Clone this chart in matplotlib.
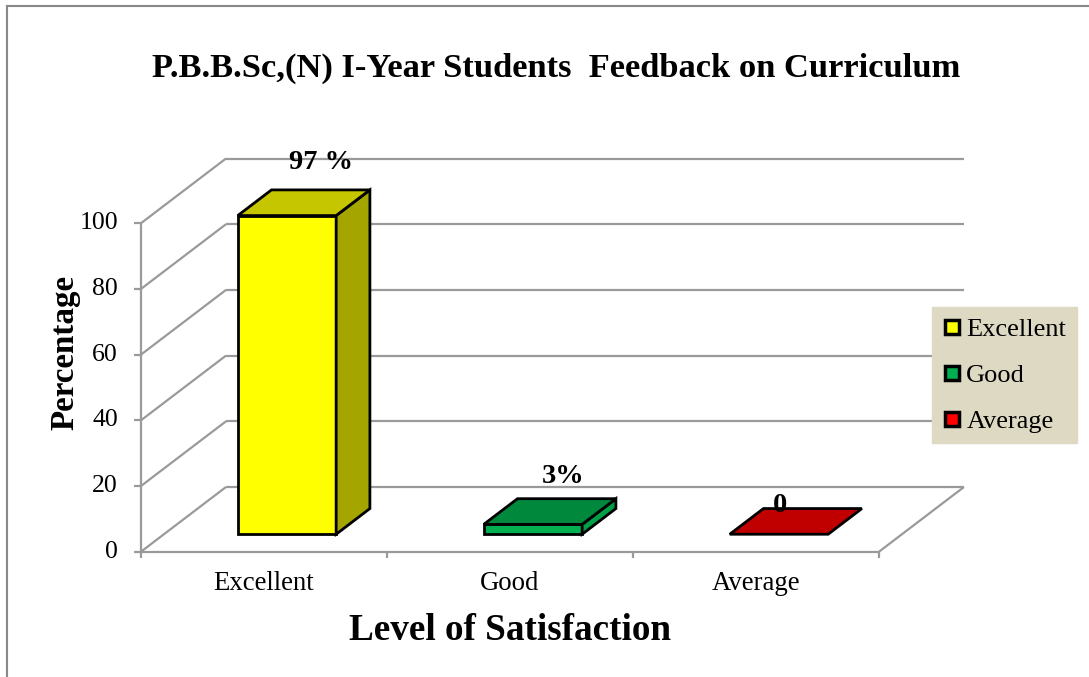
import matplotlib
matplotlib.use("Agg")
import matplotlib.pyplot as plt
from matplotlib.patches import Polygon
from matplotlib.lines import Line2D

# ---------------- data ----------------
categories = ["Excellent", "Good", "Average"]
values = [97, 3, 0]
value_labels = ["97 %", "3%", "0"]
y_ticks = [0, 20, 40, 60, 80, 100]

title = "P.B.B.Sc,(N) I-Year Students  Feedback on Curriculum"
x_title = "Level of Satisfaction"
y_title = "Percentage"

# ---------------- style ----------------
front_colors = ["#FFFF00", "#00B050", "#C00000"]
top_colors = ["#C6C600", "#00883C", "#C00000"]
side_colors = ["#A5A500", "#009E46", "#A00000"]
legend_colors = ["#FFFF00", "#00B050", "#FF0000"]
label_offsets_px = [(0, 27), (-4, 22), (-33, 3.5)]

plt.rcParams['font.family'] = ['Liberation Serif', 'DejaVu Serif']

W, H = 1089, 677
PX_U = 246.0      # pixels per category unit
PX_V = 3.285      # pixels per percentage unit
X0_PX, Y0_PX = 141.0, 551.7

fig = plt.figure(figsize=(W / 100, H / 100), dpi=100)
ax = fig.add_axes([0, 0, 1, 1])
ax.set_xlim(-X0_PX / PX_U, (W - X0_PX) / PX_U)
ax.set_ylim((Y0_PX - H) / PX_V, Y0_PX / PX_V)
ax.axis('off')

DX = 85 / PX_U
DY = 64.7 / PX_V
F0, F1 = 0.27, 0.667
BW = 0.4
n = len(categories)
ymax = y_ticks[-1]
grid = dict(color="#9A9A9A", lw=1.6, solid_capstyle='butt', zorder=1)

# walls / gridlines
for t in y_ticks:
    ax.plot([DX, n + DX], [t + DY, t + DY], **grid)
    ax.plot([0, DX], [t, t + DY], **grid)
    ax.plot([-7 / PX_U, 0], [t, t], **grid)
    ax.text(-23 / PX_U, t, str(t), ha='right', va='center', fontsize=18.5)
ax.plot([0, 0], [0, ymax], **grid)
ax.plot([0, n], [0, 0], **grid)
ax.plot([n, n + DX], [0, DY], **grid)
for i in range(n + 1):
    ax.plot([i, i], [0, -6 / PX_V], **grid)

# bars
for i, v in enumerate(values):
    x0 = i + 0.5 - BW / 2
    x1 = i + 0.5 + BW / 2
    ox0, oy0 = F0 * DX, F0 * DY
    ox1, oy1 = F1 * DX, F1 * DY
    front = [(x0 + ox0, oy0), (x1 + ox0, oy0), (x1 + ox0, v + oy0), (x0 + ox0, v + oy0)]
    side = [(x1 + ox0, oy0), (x1 + ox1, oy1), (x1 + ox1, v + oy1), (x1 + ox0, v + oy0)]
    top = [(x0 + ox0, v + oy0), (x1 + ox0, v + oy0), (x1 + ox1, v + oy1), (x0 + ox1, v + oy1)]
    kw = dict(edgecolor='black', lw=2, joinstyle='miter', zorder=3)
    if v > 0:
        ax.add_patch(Polygon(front, closed=True, facecolor=front_colors[i], **kw))
        ax.add_patch(Polygon(side, closed=True, facecolor=side_colors[i], **kw))
    ax.add_patch(Polygon(top, closed=True, facecolor=top_colors[i], **kw))
    dx, dy = label_offsets_px[i]
    ax.annotate(value_labels[i], xy=(i + 0.5 + F1 * DX, v + F1 * DY),
                xytext=(dx * 0.72, dy * 0.72), textcoords='offset points',
                ha='center', va='center', fontsize=20.5, fontweight='bold', zorder=5)
    ax.text(i + 0.5, (Y0_PX - 583) / PX_V, categories[i], ha='center', va='center', fontsize=19.3)

# titles
fig.text(556 / W, 1 - 68 / H, title, ha='center', va='center', fontsize=24.8, fontweight='bold')
fig.text(65 / W, 1 - 352 / H, y_title, ha='center', va='center', rotation=90,
         fontsize=23.8, fontweight='bold')
fig.text(510 / W, 1 - 630 / H, x_title, ha='center', va='center', fontsize=26.7, fontweight='bold')

# legend
handles = [Line2D([], [], marker='s', ms=10.5, mfc=c, mec='black', mew=2.5, ls='none')
           for c in legend_colors]
leg = fig.legend(handles, categories, loc='upper left',
                 bbox_to_anchor=(932 / W, 1 - 307 / H), borderaxespad=0,
                 fontsize=19, frameon=True, fancybox=False, facecolor='#DDD9C3',
                 edgecolor='#DDD9C3', framealpha=1, handlelength=0.7,
                 handletextpad=0.2, labelspacing=0.85, borderpad=0.4)

# outer frame (left and top)
fig.add_artist(Line2D([7 / W, 7 / W], [0, 1 - 6 / H], transform=fig.transFigure,
                      color='#888888', lw=1.5))
fig.add_artist(Line2D([7 / W, 1], [1 - 6 / H, 1 - 6 / H], transform=fig.transFigure,
                      color='#888888', lw=1.5))

fig.savefig("out.png", dpi=100)
